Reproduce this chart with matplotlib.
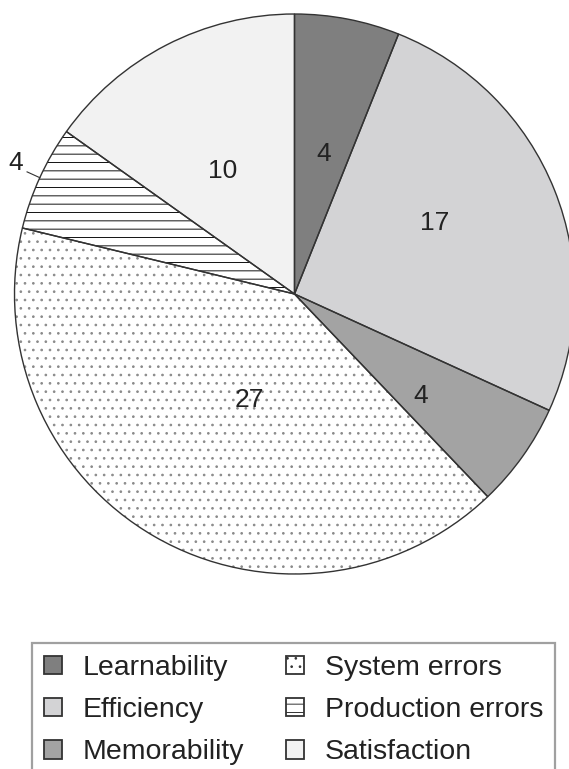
import numpy as np
import matplotlib.pyplot as plt
from matplotlib.patches import Patch

plt.rcParams['font.family'] = ['Liberation Sans', 'DejaVu Sans']
plt.rcParams['hatch.linewidth'] = 0.7

# data
labels = ['Learnability', 'Efficiency', 'Memorability',
          'System errors', 'Production errors', 'Satisfaction']
counts = [4, 17, 4, 27, 4, 10]
colors = ['#7f7f7f', '#d3d3d5', '#a3a3a3', '#ffffff', '#ffffff', '#f2f2f2']
hatches = [None, None, None, '..', '--', None]
hatch_colors = ['#333333', '#333333', '#333333', '#8a8a8a', '#111111', '#333333']
# label placement: radius and small angle nudge (deg)
label_r = [0.51, 0.56, 0.58, 0.41, 1.1, 0.51]
label_dang = [-1, 5, -3.5, 7, -0.7, 3]

fig = plt.figure(figsize=(5.69, 7.69), dpi=100)
ax = fig.add_axes([14.5/569, 1 - 574/769, 560/569, 560/769])

# filled + hatched wedges (hatch colour comes from edgecolor, edge itself not drawn)
wedges, _ = ax.pie(counts, startangle=90, counterclock=False,
                   colors=colors, radius=1.0,
                   wedgeprops=dict(linewidth=0))
for w, h, hc in zip(wedges, hatches, hatch_colors):
    w.set_edgecolor(hc)
    if h:
        w.set_hatch(h)

# outlines on top
outl, _ = ax.pie(counts, startangle=90, counterclock=False, radius=1.0,
                 wedgeprops=dict(fill=False, edgecolor='#333333', linewidth=1.0))

# value labels
for w, v, r, da in zip(wedges, counts, label_r, label_dang):
    mid = np.deg2rad((w.theta1 + w.theta2) / 2)
    ang = mid + np.deg2rad(da)
    ax.text(r * np.cos(ang), r * np.sin(ang), str(v), ha='center', va='center',
            fontsize=19, color='#222222')
    if r > 1:
        ax.plot([np.cos(mid), 1.05 * np.cos(mid)],
                [np.sin(mid), 1.05 * np.sin(mid)], color='#333333', lw=0.8)

ax.set_xlim(-1, 1)
ax.set_ylim(-1, 1)
ax.set_aspect('auto')
ax.axis('off')

handles = [Patch(facecolor=c, edgecolor='#333333', hatch=h, linewidth=1.3)
           for c, h in zip(colors, hatches)]
leg = fig.legend(handles, labels, ncol=2, loc='upper left',
                 bbox_to_anchor=(32/569, 1 - 643/769), fontsize=20.5,
                 frameon=True, fancybox=False, edgecolor='#888888',
                 handlelength=0.63, handleheight=0.63, handletextpad=0.74,
                 columnspacing=1.45, labelspacing=0.57, borderpad=0.42,
                 borderaxespad=0)
leg.get_frame().set_linewidth(1.6)
for t in leg.get_texts():
    t.set_color('#222222')

fig.savefig('out.png', dpi=100)
